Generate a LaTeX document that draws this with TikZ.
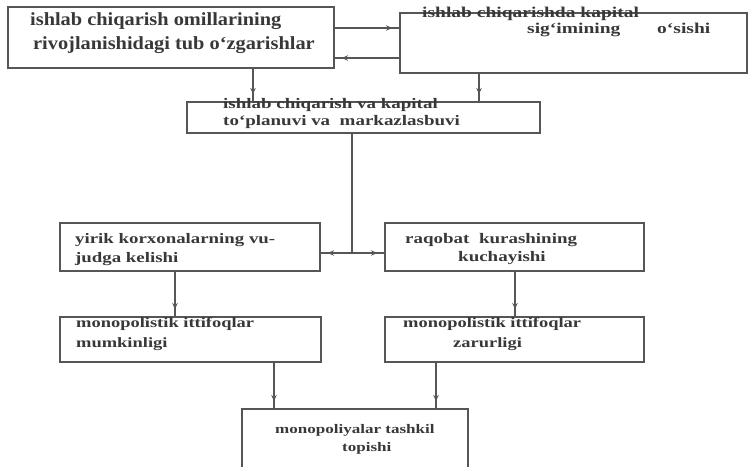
\documentclass[tikz,border=0pt]{standalone}
\usepackage{fontspec}
\setmainfont{Liberation Serif}
% horizontally widened serif faces for the box captions
\newfontfamily\widerm[FakeStretch=1.3]{Liberation Serif}
\newfontfamily\slightrm[FakeStretch=1.1]{Liberation Serif}
\usetikzlibrary{arrows.meta,decorations.markings}
\definecolor{inkline}{HTML}{565656}
\definecolor{inktext}{HTML}{383838}
\begin{document}
\begin{tikzpicture}[x=1pt,y=-1pt,
  box/.style={draw=inkline, line width=1.3pt, inner sep=0pt, outer sep=0pt, anchor=north west},
  lbl/.style={text=inktext, inner sep=0pt, anchor=base west,
    font=\widerm\bfseries\fontsize{#1pt}{#1pt}\selectfont},
  lblbig/.style={text=inktext, inner sep=0pt, anchor=base west,
    font=\slightrm\bfseries\fontsize{18.5pt}{18.5pt}\selectfont},
  plain/.style={draw=inkline, line width=1.3pt},
  flow/.style={draw=inkline, line width=1.3pt, postaction={decorate},
    decoration={markings, mark=at position -8pt with {\arrow{Stealth[length=6pt,width=5.5pt]}}}},
]
\useasboundingbox (0,0) rectangle (751,466);
\fill[white] (0,0) rectangle (751,466);

% boxes
\node[box, minimum width=326pt, minimum height=61pt] (b1) at (8,7) {};
\node[box, minimum width=347pt, minimum height=60pt] (b2) at (400,13) {};
\node[box, minimum width=353pt, minimum height=31pt] (b3) at (187,102) {};
\node[box, minimum width=260pt, minimum height=48pt] (b4) at (60,223) {};
\node[box, minimum width=259pt, minimum height=48pt] (b5) at (385,223) {};
\node[box, minimum width=261pt, minimum height=45pt] (b6l) at (60,317) {};
\node[box, minimum width=259pt, minimum height=45pt] (b6r) at (385,317) {};
\node[box, draw=none, minimum width=226pt, minimum height=62pt] (b7) at (242,409) {};
\draw[plain] (b7.south west) -- (b7.north west) -- (b7.north east) -- (b7.south east);

% captions
\node[lblbig] (t1a) at (30,25) {ishlab chiqarish omillarining};
\node[lblbig] (t1b) at (33,49) {rivojlanishidagi tub o‘zgarishlar};
\node[lbl=15] (t2a) at (422,17) {ishlab chiqarishda kapital};
\node[lbl=15] (t2b) at (527,33) {sig‘imining};
\node[lbl=15] (t2c) at (657,33) {o‘sishi};
\node[lbl=14.6] (t3a) at (223,108) {ishlab chiqarish va kapital};
\node[lbl=14.6] (t3b) at (223,125) {to‘planuvi va\ \ markazlasbuvi};
\node[lbl=14.5] (t4a) at (75,243) {yirik korxonalarning vu-};
\node[lbl=14.5] (t4b) at (75,262) {judga kelishi};
\node[lbl=14.6] (t5a) at (405,243) {raqobat\ \ kurashining};
\node[lbl=14.6] (t5b) at (458,261) {kuchayishi};
\node[lbl=14.2] (t6a) at (76,327) {monopolistik ittifoqlar};
\node[lbl=14.2] (t6b) at (76,347) {mumkinligi};
\node[lbl=14.2] (t7a) at (403,327) {monopolistik ittifoqlar};
\node[lbl=14.2] (t7b) at (453,347) {zarurligi};
\node[lbl=13.1] (t8a) at (275,433) {monopoliyalar tashkil};
\node[lbl=13.1] (t8b) at (342,451) {topishi};

% connectors
\draw[flow] ([yshift=-21pt]b1.north east) -- ([yshift=-15pt]b2.north west);
\draw[flow] ([yshift=-45pt]b2.north west) -- ([yshift=-51pt]b1.north east);
\draw[flow] ([xshift=245pt]b1.south west) -- ([xshift=66pt]b3.north west);
\draw[flow] ([xshift=79pt]b2.south west) -- ([xshift=292pt]b3.north west);
\coordinate (j) at (352,253);
\draw[plain] ([xshift=165pt]b3.south west) -- (j);
\draw[flow] (j) -- (b4.east |- j);
\draw[flow] (j) -- (b5.west |- j);
\draw[flow] ([xshift=115pt]b4.south west) -- ([xshift=115pt]b6l.north west);
\draw[flow] ([xshift=130pt]b5.south west) -- ([xshift=130pt]b6r.north west);
\draw[flow] ([xshift=214pt]b6l.south west) -- ([xshift=32pt]b7.north west);
\draw[flow] ([xshift=51pt]b6r.south west) -- ([xshift=194pt]b7.north west);
\end{tikzpicture}
\end{document}
